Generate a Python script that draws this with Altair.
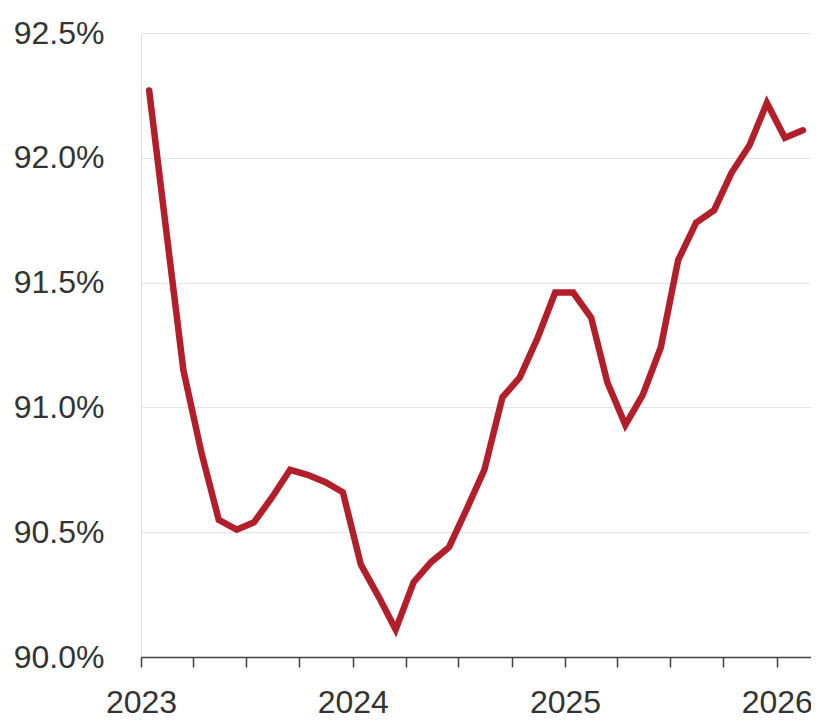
import altair as alt
import pandas as pd

# Monthly observations (mid-month), Jan 2023 - Feb 2026, in percent
values = [
    92.27, 91.68, 91.15, 90.82, 90.55, 90.51, 90.54, 90.64, 90.75, 90.73, 90.70, 90.66,
    90.37, 90.24, 90.11, 90.30, 90.38, 90.44, 90.59, 90.75, 91.04, 91.12, 91.28, 91.46,
    91.46, 91.36, 91.10, 90.93, 91.05, 91.24, 91.59, 91.74, 91.79, 91.94, 92.05, 92.22,
    92.08, 92.11,
]
dates = [d.strftime("%Y-%m-15") for d in pd.date_range("2023-01-01", periods=38, freq="MS")]
y_ticks = [90.0, 90.5, 91.0, 91.5, 92.0, 92.5]
quarter_ticks = [alt.DateTime(year=y, month=m, date=1, utc=True)
                 for y in (2023, 2024, 2025, 2026) for m in (1, 4, 7, 10)
                 if not (y == 2026 and m > 1)]

df = pd.DataFrame({"date": dates, "value": values})

FONT = "Liberation Sans"
TXT = "#333333"

line = alt.Chart(df).mark_line(
    color="#b31e2b", strokeWidth=6.5, strokeCap="round", strokeJoin="miter"
).encode(
    x=alt.X(
        "date:T",
        scale=alt.Scale(
            type="utc",
            domain=[alt.DateTime(year=2023, month=1, date=1, utc=True),
                    alt.DateTime(year=2026, month=3, date=1, utc=True)],
        ),
        axis=alt.Axis(
            title=None,
            values=quarter_ticks,
            labelExpr="utcmonth(datum.value) == 0 ? utcFormat(datum.value, '%Y') : ''",
            grid=False,
            domainColor="#404040",
            domainWidth=1.5,
            tickColor="#404040",
            tickWidth=1.5,
            tickSize=10,
            labelFont=FONT,
            labelFontSize=32,
            labelColor=TXT,
            labelPadding=20,
            labelFlush=False,
            labelOverlap=False,
        ),
    ),
    y=alt.Y(
        "value:Q",
        scale=alt.Scale(domain=[90, 92.5], nice=False, zero=False),
        axis=alt.Axis(
            title=None,
            values=y_ticks,
            labelExpr="format(datum.value, '.1f') + '%'",
            grid=True,
            gridColor="#e4e4e4",
            gridWidth=1,
            domain=False,
            ticks=False,
            labelFont=FONT,
            labelFontSize=32,
            labelColor=TXT,
            labelPadding=37,
        ),
    ),
)

chart = line.properties(
    width=670,
    height=624,
    autosize=alt.AutoSizeParams(type="none"),
    padding={"left": 133, "top": 25, "right": 0, "bottom": 62},
).configure_view(stroke=None).configure(background="white")

chart.save("out.html", embed_options={"renderer": "svg", "actions": False})
